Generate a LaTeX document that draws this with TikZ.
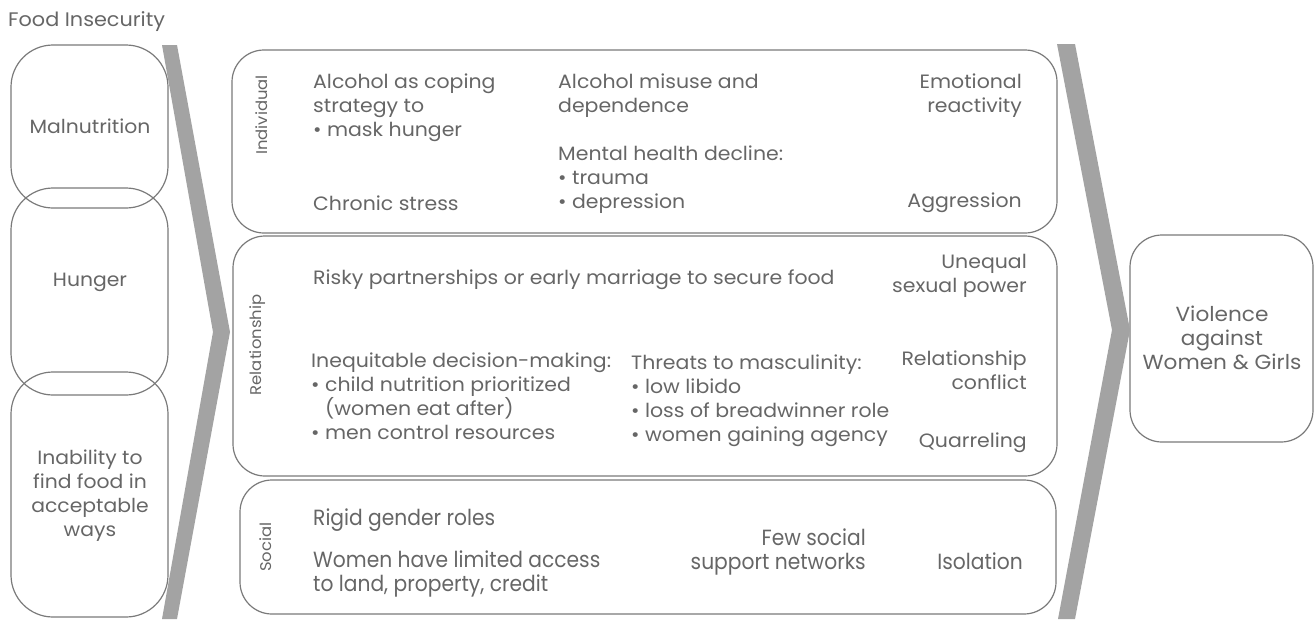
\documentclass[tikz,border=0pt]{standalone}
\usepackage{fontspec}
\setmainfont{Poppins}[FakeStretch=1.06]
\newfontfamily\condfont[FakeStretch=0.92]{Poppins}
\definecolor{txtgray}{HTML}{666666}
\definecolor{linegray}{HTML}{7A7A7A}
\definecolor{chevgray}{HTML}{A3A3A3}
\begin{document}
\begin{tikzpicture}[x=1pt,y=-1pt,
  every node/.style={text=txtgray},
  rbox/.style={draw=linegray, line width=1.2pt, rounded corners=32pt, inner sep=0pt},
  lbox/.style={draw=linegray, line width=1.2pt, rounded corners=42pt, inner sep=0pt},
  txt/.style={inner sep=0pt, font=\fontsize{19.3}{24}\selectfont, execute at begin node=\strut},
  ctxt/.style={inner sep=0pt, font=\condfont\fontsize{22}{24}\selectfont, execute at begin node=\strut},
  btxt/.style={inner sep=0pt, align=center, font=\fontsize{19.2}{24}\selectfont},
  lvl/.style={inner sep=0pt, rotate=90, font=\fontsize{15.5}{18}\selectfont},
  chev/.style={fill=chevgray, draw=none}
]
\useasboundingbox (0,0) rectangle (1315,619);

% title
\node[anchor=west, inner sep=0pt, font=\fontsize{19.6}{22}\selectfont] (title) at (8,22) {Food Insecurity};

% left boxes
\node[lbox, minimum width=157pt, minimum height=163pt] (mal) at (89.5,126.5) {};
\node[lbox, minimum width=157pt, minimum height=207pt] (hun) at (89.5,291.5) {};
\node[lbox, minimum width=157pt, minimum height=245pt] (ina) at (89.5,494.5) {};
\node[btxt] (maltxt) at (90,126) {Malnutrition};
\node[btxt] (huntxt) at (90,282) {Hunger};
\node[btxt] (inatxt) at (90,496) {Inability to\\find food in\\acceptable\\ways};

% middle boxes
\node[rbox, minimum width=825pt, minimum height=183pt] (ind) at (644.5,141.5) {};
\node[rbox, minimum width=824pt, minimum height=240pt] (rel) at (645,356) {};
\node[rbox, minimum width=816pt, minimum height=134pt] (soc) at (648,547) {};

% right box
\node[rbox, minimum width=183pt, minimum height=207pt] (vio) at (1221.5,338.5) {};
\node[btxt, font=\fontsize{20.4}{24}\selectfont] (viotxt) at (1222,338) {Violence\\against\\Women \& Girls};

% level labels
\node[lvl] (lind) at (262,115) {Individual};
\node[lvl] (lrel) at (258,345) {Relationship};
\node[lvl] (lsoc) at (266,547) {Social};

% individual
\node[txt, anchor=north west, align=left] (alc) at (313,74) {Alcohol as coping\\strategy to\\• mask hunger};
\node[txt, anchor=north west, align=left] (chr) at (313,193) {Chronic stress};
\node[txt, anchor=north west, align=left] (mis) at (558,74) {Alcohol misuse and\\dependence};
\node[txt, anchor=north west, align=left] (men) at (558,146) {Mental health decline:\\• trauma\\• depression};
\node[txt, anchor=north east, align=right] (emo) at (1022,74) {Emotional\\reactivity};
\node[txt, anchor=north east, align=right] (agg) at (1022,190) {Aggression};

% relationship
\node[txt, anchor=north west, align=left] (risk) at (313,267) {Risky partnerships or early marriage to secure food};
\node[txt, anchor=north east, align=right] (uneq) at (1027,254) {Unequal\\sexual power};
\node[txt, anchor=north west, align=left] (ineq) at (311,353) {Inequitable decision-making:\\• child nutrition prioritized\\\phantom{• }(women eat after)\\• men control resources};
\node[txt, anchor=north west, align=left] (thr) at (631,355) {Threats to masculinity:\\• low libido\\• loss of breadwinner role\\• women gaining agency};
\node[txt, anchor=north east, align=right] (conf) at (1027,351) {Relationship\\conflict};
\node[txt, anchor=north east, align=right] (quar) at (1027,430) {Quarreling};

% social
\node[ctxt, anchor=north west, align=left] (rig) at (313,508) {Rigid gender roles};
\node[ctxt, anchor=north west, align=left] (wom) at (313,551) {Women have limited access\\to land, property, credit};
\node[ctxt, anchor=north east, align=right] (few) at (866,529) {Few social\\support networks};
\node[ctxt, anchor=north east, align=right] (iso) at (1023,552) {Isolation};

% chevrons
\fill[chev] (162,45) -- (177,45) -- (230,332) -- (177,619) -- (162,619) -- (213,332) -- cycle;
\fill[chev] (1057,44) -- (1075,44) -- (1130,330) -- (1075,619) -- (1058,619) -- (1112,330) -- cycle;
\end{tikzpicture}
\end{document}
